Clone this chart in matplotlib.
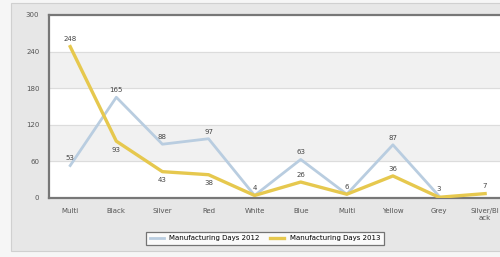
import numpy as np
import matplotlib.pyplot as plt
from matplotlib.patches import Rectangle

categories = ['Multi', 'Black', 'Silver', 'Red', 'White', 'Blue', 'Multi', 'Yellow', 'Grey', 'Silver/Bl\nack']
days_2012 = [53, 165, 88, 97, 4, 63, 6, 87, 3, np.nan]
days_2013 = [248, 93, 43, 38, 4, 26, 6, 36, 1, 7]
yticks = [0, 60, 120, 180, 240, 300]

blue = '#b9cde0'
gold = '#e6c84e'

fig = plt.figure(figsize=(5, 2.57), dpi=100, facecolor='#f6f6f6')
# outer panel, behind the axes
fig.patches.append(Rectangle((0.022, 0.025), 1.0, 0.965, transform=fig.transFigure,
                             facecolor='#e7e7e7', edgecolor='#d0d0d0', lw=0.8, zorder=-5))

ax = fig.add_axes([0.098, 0.23, 0.922, 0.712])
ax.set_facecolor('white')

# alternating bands
for lo, hi in zip(yticks[:-1], yticks[1:]):
    if (lo // 60) % 2 == 1:
        ax.axhspan(lo, hi, color='#f1f1f1', zorder=0)
for y in yticks[1:-1]:
    ax.axhline(y, color='#dcdcdc', lw=0.8, zorder=0.5)

x = np.arange(len(categories))
ax.plot(x, days_2012, color=blue, lw=2, label='Manufacturing Days 2012', zorder=2)
ax.plot(x, days_2013, color=gold, lw=2.4, label='Manufacturing Days 2013', zorder=3)

for i, v in enumerate(days_2012):
    if not np.isnan(v):
        ax.annotate(str(int(v)), (i, v), xytext=(0, 3), textcoords='offset points',
                    ha='center', va='bottom', fontsize=5, color='#444444')
for i, v in enumerate(days_2013):
    other = days_2012[i]
    if not np.isnan(other) and abs(other - v) < 5:
        continue
    below = i in (1, 2, 3)
    ax.annotate(str(v), (i, v), xytext=(0, -4 if below else 3), textcoords='offset points',
                ha='center', va='top' if below else 'bottom', fontsize=5, color='#444444')

ax.set_xlim(-0.46, 9.54)
ax.set_ylim(0, 300)
ax.set_yticks(yticks)
ax.set_xticks(x)
ax.set_xticklabels(categories)
ax.tick_params(axis='both', labelsize=5, colors='#555555', length=0, pad=7)
for side in ['left', 'bottom', 'top']:
    ax.spines[side].set_color('#777777')
    ax.spines[side].set_linewidth(1.6)
ax.spines['right'].set_visible(False)

leg = fig.legend(loc='center', bbox_to_anchor=(0.53, 0.073), ncol=2, fontsize=5,
                 frameon=True, fancybox=False, handlelength=2, columnspacing=1.5,
                 borderpad=0.5)
leg.get_frame().set_edgecolor('#555555')
leg.get_frame().set_linewidth(0.9)

fig.savefig('out.png', dpi=100, facecolor=fig.get_facecolor())
